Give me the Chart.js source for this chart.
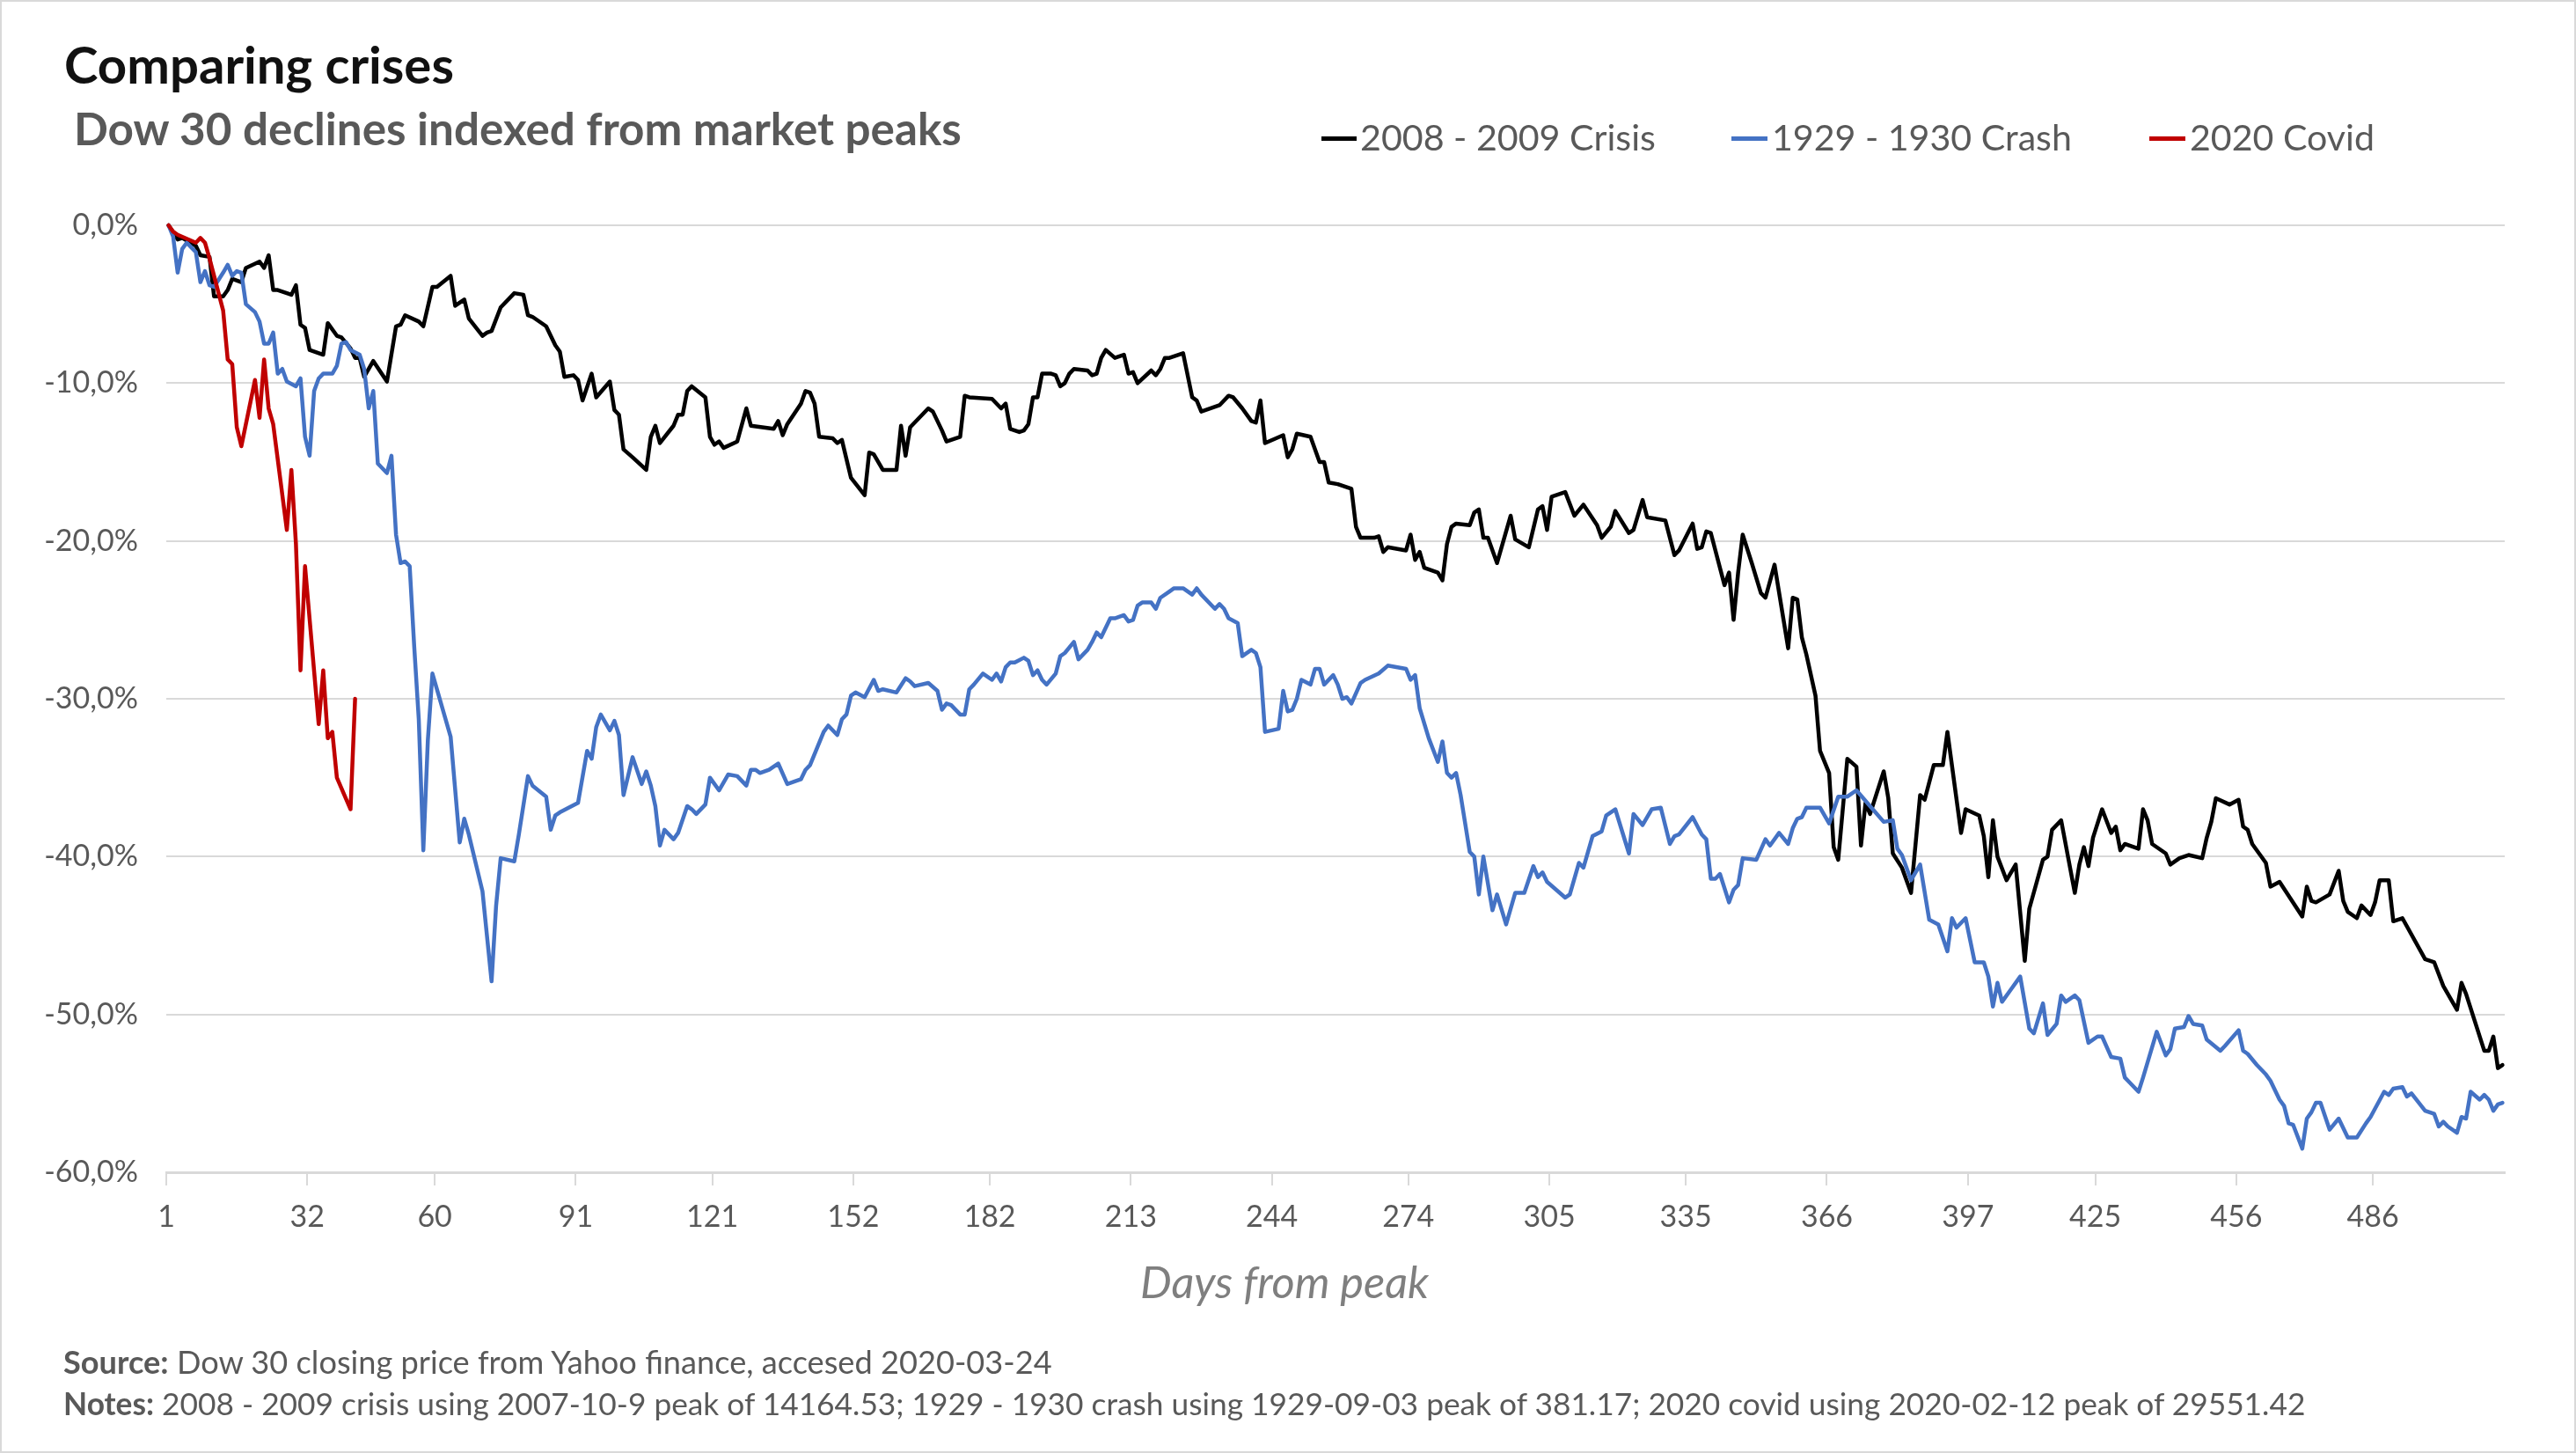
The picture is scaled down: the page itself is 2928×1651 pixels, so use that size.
<!DOCTYPE html>
<html>
<head>
<meta charset="utf-8">
<script src="https://cdn.jsdelivr.net/npm/chart.js@4.4.1/dist/chart.umd.min.js"></script>
<style>
html,body{margin:0;padding:0;background:#fff;}
#wrap{position:relative;width:2928px;height:1651px;overflow:hidden;font-family:Lato,"Noto Sans",sans-serif;background:#fff;}
#frame{position:absolute;left:0;top:0;width:2928px;height:1651px;box-sizing:border-box;border:2px solid #d9d9d9;pointer-events:none;}
#c{position:absolute;left:0;top:0;}
.t{position:absolute;white-space:nowrap;line-height:1;transform:translateY(-50%);color:#595959;}
.sw{position:absolute;height:5px;}
</style>
</head>
<body>
<div id="wrap">
  <canvas id="c" width="2928" height="1651"></canvas>
  <div class="t" data-w="443" style="left:73px;top:73px;font-size:56px;font-weight:700;color:#111;">Comparing crises</div>
  <div class="t" data-w="1009" style="left:84px;top:146px;font-size:46px;font-weight:700;color:#595959;">Dow 30 declines indexed from market peaks</div>

  <div class="sw" style="left:1502px;top:155px;width:40px;background:#000000;"></div>
  <div class="t" id="lg0" data-w="336" style="left:1546px;top:156px;font-size:40px;"></div>
  <div class="sw" style="left:1968px;top:155px;width:41px;background:#4472C4;"></div>
  <div class="t" id="lg1" data-w="341" style="left:2014px;top:156px;font-size:40px;"></div>
  <div class="sw" style="left:2443px;top:155px;width:41px;background:#C00000;"></div>
  <div class="t" id="lg2" data-w="210" style="left:2489px;top:156px;font-size:40px;"></div>

  <div class="t" data-w="328" style="left:1460px;top:1456px;font-size:42px;font-style:italic;color:#7f7f7f;transform:translate(-50%,-50%);">Days from peak</div>
  <div class="t" data-w="1124" style="left:72px;top:1547px;font-size:32px;"><b>Source:</b> Dow 30 closing price from Yahoo finance, accesed 2020-03-24</div>
  <div class="t" data-w="2549" style="left:72px;top:1595px;font-size:32px;"><b>Notes:</b> 2008 - 2009 crisis using 2007-10-9 peak of 14164.53; 1929 - 1930 crash using 1929-09-03 peak of 381.17; 2020 covid using 2020-02-12 peak of 29551.42</div>
  <div id="frame"></div>
</div>
<script>
// ---------------- data ----------------
const seriesNames = ["2008 - 2009 Crisis", "1929 - 1930 Crash", "2020 Covid"];
const tickDays = [1, 32, 60, 91, 121, 152, 182, 213, 244, 274, 305, 335, 366, 397, 425, 456, 486];

const blackDays = [1,3,4,7,8,10,11,13,14,15,17,18,21,22,23,24,25,28,29,30,31,32,35,36,38,39,41,42,43,44,46,49,51,52,53,56,57,59,60,63,64,66,67,70,71,72,74,77,79,80,81,84,86,87,88,90,91,92,94,95,98,99,100,101,103,106,107,108,109,112,113,114,115,116,119,120,121,122,123,126,128,129,134,135,136,137,140,141,142,143,144,147,148,149,151,154,155,156,158,161,162,163,164,168,169,171,172,175,176,177,182,184,185,186,188,189,190,191,192,193,195,196,197,198,199,200,203,204,205,206,207,209,211,212,213,214,217,218,219,220,221,224,225,226,227,228,232,234,235,237,239,240,241,242,246,247,248,249,252,254,255,256,258,259,261,262,263,266,267,268,269,273,274,275,276,277,280,281,282,283,284,287,288,289,290,291,293,296,297,300,302,303,304,305,308,310,312,315,316,318,319,322,323,325,326,330,332,333,336,337,338,339,340,343,344,345,346,347,349,351,352,354,357,358,359,360,361,363,364,366,367,368,370,372,373,374,375,378,379,380,382,384,386,387,389,391,392,395,396,399,400,401,402,403,405,407,409,410,413,414,415,417,420,421,422,423,424,426,428,429,430,431,434,435,436,437,440,441,443,445,448,449,450,451,454,456,457,458,459,462,463,465,470,471,472,473,476,478,479,480,482,483,485,486,487,489,490,492,497,499,501,504,505,506,510,511,512,513,514];
const blackValues = [0,-0.9,-0.8,-1.3,-1.9,-2.0,-4.5,-4.5,-4.1,-3.4,-3.6,-2.7,-2.3,-2.7,-1.9,-4.1,-4.1,-4.4,-3.8,-6.3,-6.5,-7.9,-8.2,-6.2,-7.0,-7.1,-7.8,-8.4,-8.4,-9.6,-8.6,-9.9,-6.4,-6.3,-5.7,-6.1,-6.4,-3.9,-3.9,-3.2,-5.1,-4.7,-5.9,-7.0,-6.8,-6.7,-5.2,-4.3,-4.4,-5.7,-5.8,-6.4,-7.6,-8.0,-9.6,-9.5,-9.8,-11.1,-9.4,-10.9,-9.9,-11.7,-12.0,-14.2,-14.7,-15.5,-13.4,-12.7,-13.8,-12.7,-12.0,-12.0,-10.5,-10.2,-10.9,-13.4,-13.9,-13.7,-14.1,-13.7,-11.6,-12.7,-12.9,-12.4,-13.3,-12.6,-11.3,-10.5,-10.6,-11.3,-13.4,-13.5,-13.8,-13.6,-16.0,-17.1,-14.4,-14.5,-15.5,-15.5,-12.7,-14.6,-12.8,-11.6,-11.8,-13.0,-13.7,-13.4,-10.8,-10.9,-11.0,-11.6,-11.3,-12.9,-13.1,-13.0,-12.6,-10.9,-10.9,-9.4,-9.4,-9.5,-10.2,-10.0,-9.4,-9.1,-9.2,-9.5,-9.4,-8.4,-7.9,-8.4,-8.2,-9.4,-9.3,-10.0,-9.2,-9.5,-9.1,-8.4,-8.4,-8.1,-9.5,-10.9,-11.1,-11.8,-11.4,-10.8,-10.9,-11.6,-12.4,-12.5,-11.1,-13.8,-13.3,-14.7,-14.2,-13.2,-13.4,-15.0,-15.0,-16.3,-16.4,-16.5,-16.7,-19.1,-19.8,-19.8,-19.7,-20.7,-20.4,-20.6,-19.6,-21.2,-20.7,-21.7,-22.0,-22.5,-20.2,-19.1,-18.9,-19.0,-18.2,-18.0,-19.8,-19.8,-21.4,-18.4,-19.9,-20.4,-18.0,-17.8,-19.3,-17.2,-16.9,-18.4,-17.7,-19.0,-19.8,-19.1,-18.1,-19.5,-19.3,-17.4,-18.5,-18.7,-20.9,-20.6,-18.9,-20.5,-20.4,-19.4,-19.5,-22.8,-22.0,-25.0,-22.0,-19.6,-21.4,-23.3,-23.6,-21.5,-26.8,-23.6,-23.7,-26.1,-27.2,-29.8,-33.3,-34.7,-39.4,-40.2,-33.8,-34.3,-39.3,-36.6,-37.3,-34.6,-36.3,-39.8,-40.7,-42.3,-36.1,-36.4,-34.2,-34.2,-32.1,-38.5,-37.0,-37.4,-38.7,-41.3,-37.7,-40.0,-41.5,-40.5,-46.6,-43.3,-40.2,-40.0,-38.3,-37.7,-42.3,-40.5,-39.4,-40.6,-38.8,-37.0,-38.5,-38.1,-39.6,-39.2,-39.5,-37.0,-37.7,-39.2,-39.8,-40.5,-40.1,-39.9,-40.1,-38.8,-37.8,-36.3,-36.7,-36.4,-38.1,-38.3,-39.2,-40.4,-41.9,-41.6,-43.8,-41.9,-42.8,-42.9,-42.4,-40.9,-42.8,-43.5,-43.9,-43.1,-43.7,-42.9,-41.5,-41.5,-44.1,-43.9,-46.5,-46.7,-48.2,-49.7,-48.0,-48.7,-52.3,-52.3,-51.4,-53.4,-53.2];

const blueDays = [1,2,3,4,5,6,7,8,9,10,11,13,14,15,16,17,18,20,21,22,23,24,25,26,27,29,30,31,32,33,34,35,37,38,39,40,41,43,44,45,46,47,49,50,51,52,53,54,55,56,57,58,59,63,65,66,67,70,72,73,74,77,78,80,81,84,85,86,87,91,93,94,95,96,98,99,100,101,103,105,106,107,108,109,110,112,113,115,116,117,119,120,122,124,126,128,129,130,131,133,135,137,140,141,142,145,146,148,149,150,151,152,154,156,157,158,161,163,164,165,168,170,171,172,173,175,176,177,178,180,182,183,184,185,186,187,189,190,191,192,193,194,196,197,198,200,201,203,204,205,206,208,209,211,212,213,214,215,217,218,219,221,222,224,226,227,228,231,232,233,234,236,237,239,240,241,242,245,246,247,248,249,250,252,253,254,255,257,258,259,260,261,263,264,267,269,273,274,275,276,278,280,281,282,283,284,285,287,288,289,290,292,293,295,297,299,301,302,303,304,308,309,311,312,314,316,317,319,322,323,325,327,329,331,332,333,336,338,339,340,341,342,344,345,346,347,350,352,353,355,357,358,359,360,361,364,366,368,370,372,375,378,380,381,382,384,386,388,390,392,393,394,396,398,400,401,402,403,404,406,408,410,411,413,414,416,417,418,420,421,423,425,426,428,430,431,432,434,435,438,440,441,442,444,445,446,448,449,452,453,456,457,458,460,462,463,465,466,467,468,470,471,472,473,474,476,478,480,482,484,485,488,489,490,492,493,494,497,499,500,501,502,504,505,506,507,509,510,511,512,513,514];
const blueValues = [0,-0.7,-3.0,-1.5,-1.1,-1.4,-1.7,-3.6,-2.9,-3.8,-3.9,-3.0,-2.5,-3.2,-2.9,-3.0,-5.0,-5.5,-6.1,-7.5,-7.5,-6.8,-9.4,-9.1,-9.9,-10.2,-9.7,-13.4,-14.6,-10.5,-9.7,-9.4,-9.4,-8.9,-7.5,-7.4,-7.9,-8.2,-9.1,-11.6,-10.5,-15.1,-15.7,-14.6,-19.6,-21.4,-21.3,-21.6,-26.7,-31.3,-39.6,-32.6,-28.4,-32.4,-39.1,-37.6,-38.6,-42.2,-47.9,-43.1,-40.1,-40.3,-38.6,-34.9,-35.5,-36.2,-38.3,-37.4,-37.2,-36.6,-33.3,-33.8,-31.8,-31.0,-32.0,-31.4,-32.3,-36.1,-33.7,-35.4,-34.6,-35.5,-36.8,-39.3,-38.3,-38.9,-38.5,-36.8,-37.0,-37.3,-36.7,-35.0,-35.8,-34.8,-34.9,-35.5,-34.5,-34.5,-34.7,-34.5,-34.1,-35.4,-35.1,-34.5,-34.2,-32.1,-31.7,-32.3,-31.3,-31.0,-29.8,-29.6,-29.9,-28.8,-29.5,-29.4,-29.6,-28.7,-28.9,-29.2,-29.0,-29.5,-30.7,-30.3,-30.4,-31.0,-31.0,-29.4,-29.1,-28.4,-28.8,-28.4,-28.9,-28.0,-27.7,-27.7,-27.4,-27.6,-28.5,-28.2,-28.8,-29.1,-28.4,-27.3,-27.1,-26.4,-27.5,-26.9,-26.4,-25.8,-26.1,-24.9,-24.9,-24.7,-25.1,-25.0,-24.1,-23.9,-23.9,-24.3,-23.6,-23.2,-23.0,-23.0,-23.4,-23.0,-23.4,-24.3,-24.0,-24.3,-24.9,-25.2,-27.3,-26.9,-27.1,-28.0,-32.1,-31.9,-29.5,-30.8,-30.7,-30.0,-28.8,-29.1,-28.1,-28.1,-29.1,-28.5,-29.1,-30.0,-29.9,-30.3,-29.0,-28.8,-28.4,-27.9,-28.1,-28.8,-28.5,-30.6,-32.5,-34.0,-32.7,-34.7,-35.0,-34.7,-36.1,-39.7,-40.0,-42.4,-40.0,-43.4,-42.4,-44.3,-42.3,-42.3,-40.6,-41.3,-41.0,-41.6,-42.6,-42.4,-40.4,-40.7,-38.7,-38.4,-37.4,-37.0,-39.8,-37.3,-38.0,-37.0,-36.9,-39.2,-38.7,-38.6,-37.5,-38.6,-38.9,-41.4,-41.4,-41.1,-42.9,-42.1,-41.8,-40.1,-40.2,-38.9,-39.3,-38.5,-39.2,-38.2,-37.6,-37.5,-36.9,-36.9,-37.9,-36.2,-36.2,-35.8,-36.8,-37.8,-37.7,-39.5,-39.9,-41.5,-40.5,-44.0,-44.3,-46.0,-43.9,-44.5,-43.9,-46.7,-46.7,-47.6,-49.5,-48.0,-49.2,-48.4,-47.6,-50.9,-51.2,-49.3,-51.3,-50.6,-48.8,-49.2,-48.8,-49.1,-51.8,-51.4,-51.4,-52.7,-52.8,-54.0,-54.3,-54.9,-54.0,-51.1,-52.6,-52.2,-50.9,-50.8,-50.1,-50.6,-50.7,-51.6,-52.3,-52.0,-51.0,-52.3,-52.5,-53.2,-53.8,-54.2,-55.4,-55.8,-56.9,-57.0,-58.5,-56.6,-56.2,-55.6,-55.6,-57.3,-56.6,-57.8,-57.8,-56.9,-56.5,-54.9,-55.1,-54.7,-54.6,-55.2,-55.0,-56.1,-56.3,-57.1,-56.8,-57.1,-57.5,-56.5,-56.6,-54.9,-55.4,-55.1,-55.4,-56.1,-55.7,-55.6];

const redDays = [1,2,3,7,8,9,10,13,14,15,16,17,20,21,22,23,24,27,28,29,30,31,34,35,36,37,38,41,42];
const redValues = [0,-0.4,-0.6,-1.1,-0.8,-1.1,-2.1,-5.4,-8.5,-8.8,-12.8,-14.0,-9.8,-12.2,-8.5,-11.6,-12.6,-19.3,-15.5,-20.2,-28.2,-21.6,-31.6,-28.2,-32.5,-32.1,-35.0,-37.0,-30.0];

// ---------------- chart ----------------
const toXY = (days, vals) => days.map((d, i) => ({ x: d, y: vals[i] }));
const colors = ["#000000", "#4472C4", "#C00000"];
['lg0','lg1','lg2'].forEach((id, i) => { document.getElementById(id).textContent = seriesNames[i]; });

const tickFont = { family: "Lato, 'Noto Sans', sans-serif", size: 34 };

new Chart(document.getElementById('c'), {
  type: 'line',
  data: {
    datasets: [
      { label: seriesNames[0], data: toXY(blackDays, blackValues), borderColor: colors[0], order: 2 },
      { label: seriesNames[1], data: toXY(blueDays, blueValues), borderColor: colors[1], order: 1 },
      { label: seriesNames[2], data: toXY(redDays, redValues), borderColor: colors[2], order: 0 }
    ]
  },
  options: {
    responsive: false,
    animation: false,
    devicePixelRatio: 1,
    layout: { padding: { left: 0, right: 81, top: 256, bottom: 219 } },
    plugins: { legend: { display: false }, tooltip: { enabled: false }, title: { display: false } },
    elements: {
      point: { radius: 0, hoverRadius: 0 },
      line: { borderWidth: 4.5, tension: 0, fill: false, borderJoinStyle: 'round', borderCapStyle: 'round' }
    },
    datasets: { line: { clip: false } },
    scales: {
      x: {
        type: 'linear',
        min: 0.5,
        max: 514.5,
        afterBuildTicks: (s) => { s.ticks = tickDays.map(d => ({ value: d - 0.5 })); },
        afterFit: (s) => { s.height = 100; },
        ticks: {
          autoSkip: false, maxRotation: 0, minRotation: 0, padding: 16,
          color: '#595959', font: tickFont,
          callback: (v) => String(Math.round(v + 0.5))
        },
        grid: { display: true, drawOnChartArea: false, drawTicks: true, tickLength: 15, color: '#d9d9d9', lineWidth: 2 },
        border: { display: true, color: '#d9d9d9', width: 3 }
      },
      y: {
        min: -60,
        max: 0,
        afterFit: (s) => { s.width = 189; },
        ticks: {
          stepSize: 10, padding: 32, color: '#595959', font: tickFont,
          callback: (v) => (Math.abs(v) < 1e-9 ? 0 : v).toFixed(1).replace('.', ',') + '%'
        },
        grid: { color: '#d9d9d9', lineWidth: 2, drawTicks: false },
        border: { display: false }
      }
    }
  }
});

// fit HTML text widths to the reference
document.querySelectorAll('[data-w]').forEach(el => {
  const target = +el.dataset.w;
  const fs = parseFloat(getComputedStyle(el).fontSize);
  const w = el.getBoundingClientRect().width;
  if (w > 0) el.style.fontSize = (fs * target / w).toFixed(2) + 'px';
});
</script>
</body>
</html>
